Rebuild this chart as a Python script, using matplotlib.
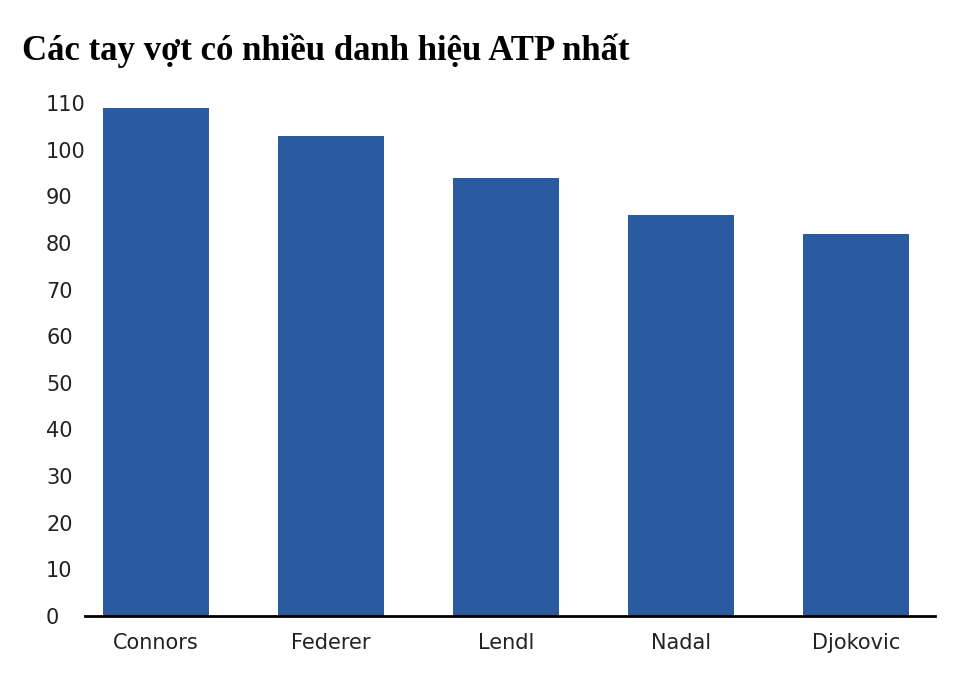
import matplotlib
matplotlib.use("Agg")
import matplotlib.pyplot as plt

players = ["Connors", "Federer", "Lendl", "Nadal", "Djokovic"]
titles = [109, 103, 94, 86, 82]
yticks = list(range(0, 111, 10))

fig = plt.figure(figsize=(9.6, 6.94), dpi=100)
ax = fig.add_axes([85/960, 1-616/694, 850/960, (616-103)/694])
ax.bar(range(len(players)), titles, width=0.606, color="#2a5aa0")
ax.set_xlim(-0.406, 4.451)
ax.set_ylim(0, 110)
ax.set_yticks(yticks)
ax.set_xticks(range(len(players)))
ax.set_xticklabels(players)
for s in ["top", "right", "left"]:
    ax.spines[s].set_visible(False)
ax.spines["bottom"].set_linewidth(2)
ax.tick_params(axis="both", length=0, labelsize=15, colors="#222222")
ax.tick_params(axis="x", pad=12)
ax.tick_params(axis="y", pad=28)
for l in ax.get_yticklabels():
    l.set_horizontalalignment("left")
fig.text(22/960, 1-60/694, "Các tay vợt có nhiều danh hiệu ATP nhất",
         fontsize=25, fontweight="bold", family="Liberation Serif", color="black")
fig.savefig("out.png", dpi=100)
